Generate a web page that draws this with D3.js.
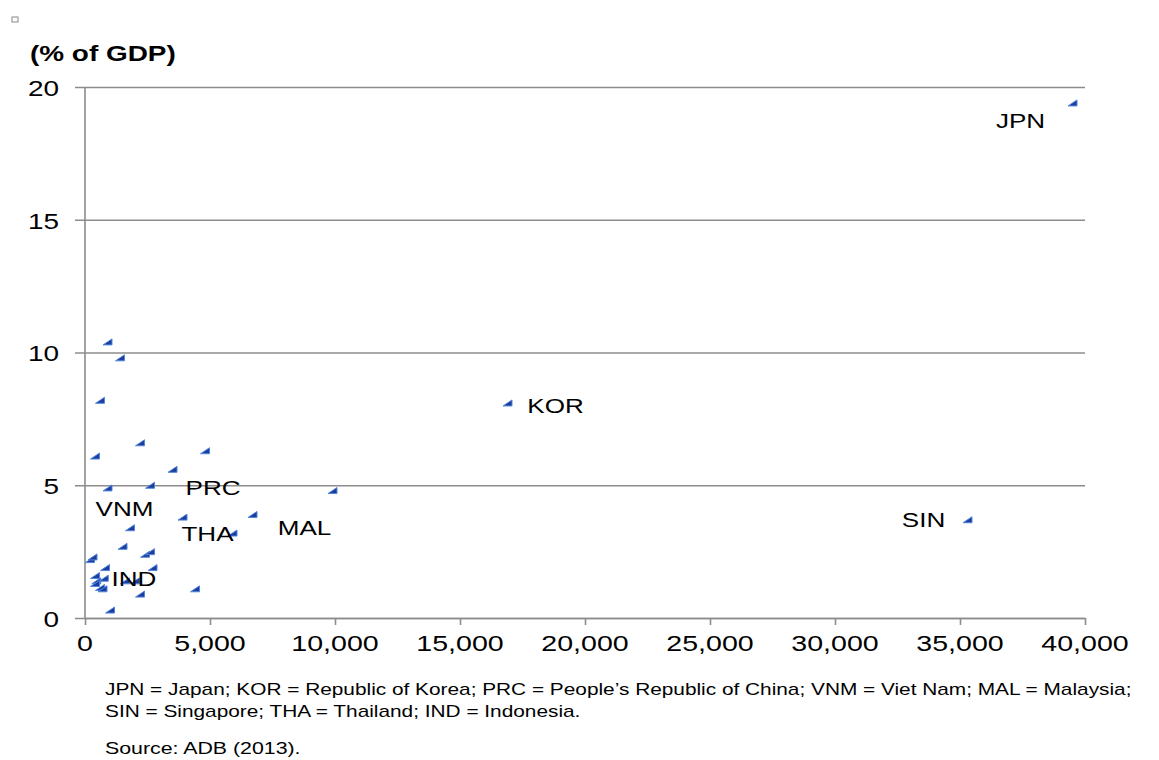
<!DOCTYPE html>
<html>
<head>
<meta charset="utf-8">
<script src="https://cdn.jsdelivr.net/npm/d3@7"></script>
<style>
  html, body { margin: 0; padding: 0; background: #fff; }
  svg { display: block; }
  text { font-family: "Liberation Sans", Arial, sans-serif; fill: #000; }
</style>
</head>
<body>
<svg id="chart" width="1159" height="760"></svg>
<script>
// ---- Data ----
const xValues = [39500, 16900, 35300, 9900, 5900, 2600, 900, 1600,
  900, 1400, 600, 400, 2200, 4800, 3500, 3900, 6700, 1800, 1500, 2400, 2600,
  200, 300, 2700, 800, 400, 750, 450, 400, 600, 700, 2000, 2200, 4400, 1000];
const yValues = [19.4, 8.1, 3.7, 4.8, 3.2, 5.0, 4.9, 1.4,
  10.4, 9.8, 8.2, 6.1, 6.6, 6.3, 5.6, 3.8, 3.9, 3.4, 2.7, 2.4, 2.5,
  2.2, 2.3, 1.9, 1.9, 1.6, 1.5, 1.4, 1.3, 1.15, 1.1, 1.4, 0.9, 1.1, 0.3];
const pointLabels = ["JPN", "KOR", "SIN", "MAL", "THA", "PRC", "VNM", "IND"];
const xTicks = [0, 5000, 10000, 15000, 20000, 25000, 30000, 35000, 40000];
const yTicks = [0, 5, 10, 15, 20];
const yTitle = "(% of GDP)";
const noteLines = [
  "JPN = Japan; KOR = Republic of Korea; PRC = People\u2019s Republic of China; VNM = Viet Nam; MAL = Malaysia;",
  "SIN = Singapore; THA = Thailand; IND = Indonesia."
];
const sourceLine = "Source: ADB (2013).";

// ---- Style / layout ----
const labelOffsets = { // pixel offsets of data labels from their point
  JPN: [-52, 18], KOR: [48, 3], SIN: [-44, 0], MAL: [-28, 37],
  THA: [-25, 1], PRC: [63, 3], VNM: [17, 21], IND: [9, -2]
};
const SX = 1.27; // horizontal stretch of the text as in the reference
const gridColor = "#8c8c8c";

const svg = d3.select("#chart");
const x = d3.scaleLinear().domain([0, 40000]).range([85, 1085]);
const y = d3.scaleLinear().domain([0, 20]).range([618, 87]);

function putText(px, py, str, opts = {}) {
  const g = svg.append("g").attr("transform", `translate(${px},${py}) scale(${SX},1)`);
  return g.append("text")
    .attr("text-anchor", opts.anchor || "start")
    .attr("dominant-baseline", "central")
    .style("font-size", (opts.size || 22) + "px")
    .style("font-weight", opts.weight || "normal")
    .text(str);
}

// small square top-left
svg.append("rect").attr("x", 12).attr("y", 17).attr("width", 6).attr("height", 5)
  .attr("fill", "none").attr("stroke", "#888").attr("stroke-width", 1);

// gridlines (horizontal) + y axis
const yAxis = d3.axisLeft(y).tickValues(yTicks).tickSize(-(1085 - 85)).tickSizeOuter(0).tickFormat("");
const gy = svg.append("g").attr("transform", "translate(85,0)").call(yAxis);
gy.select(".domain").remove();
gy.selectAll(".tick line").attr("x1", -10).attr("x2", 1000)
  .attr("stroke", gridColor).attr("stroke-width", 1.6);
svg.append("line").attr("x1", 85).attr("x2", 85).attr("y1", 87).attr("y2", 618)
  .attr("stroke", gridColor).attr("stroke-width", 1.6);

// x axis ticks
const xAxis = d3.axisBottom(x).tickValues(xTicks).tickSize(7).tickSizeOuter(0).tickFormat("");
const gx = svg.append("g").attr("transform", "translate(0,618)").call(xAxis);
gx.select(".domain").attr("stroke", gridColor).attr("stroke-width", 1.6);
gx.selectAll(".tick line").attr("stroke", gridColor).attr("stroke-width", 1.6);

// tick labels
const fmt = d3.format(",");
xTicks.forEach(v => putText(x(v), 643, fmt(v), { anchor: "middle", size: 22.5 }));
yTicks.forEach(v => putText(59, y(v) + 1, String(v), { anchor: "end", size: 22 }));

// y title
putText(30, 53, yTitle, { size: 22, weight: "bold" });

// markers
const tri = "M-4.5,3L4.5,3L4.5,-3Z";
svg.append("g").selectAll("path").data(xValues.map((v, i) => [v, yValues[i]]))
  .join("path")
  .attr("d", tri)
  .attr("transform", d => `translate(${x(d[0])},${y(d[1])})`)
  .attr("fill", "#1e3c9c")
  .attr("stroke", "#4f86dc")
  .attr("stroke-width", 1);

// data labels
pointLabels.forEach((lab, i) => {
  const o = labelOffsets[lab];
  putText(x(xValues[i]) + o[0], y(yValues[i]) + o[1], lab, { anchor: "middle", size: 20.5 });
});

// notes
noteLines.forEach((t, i) => putText(105, 689 + i * 22, t, { size: 16.4 }));
putText(105, 748, sourceLine, { size: 16.8 });
</script>
</body>
</html>
